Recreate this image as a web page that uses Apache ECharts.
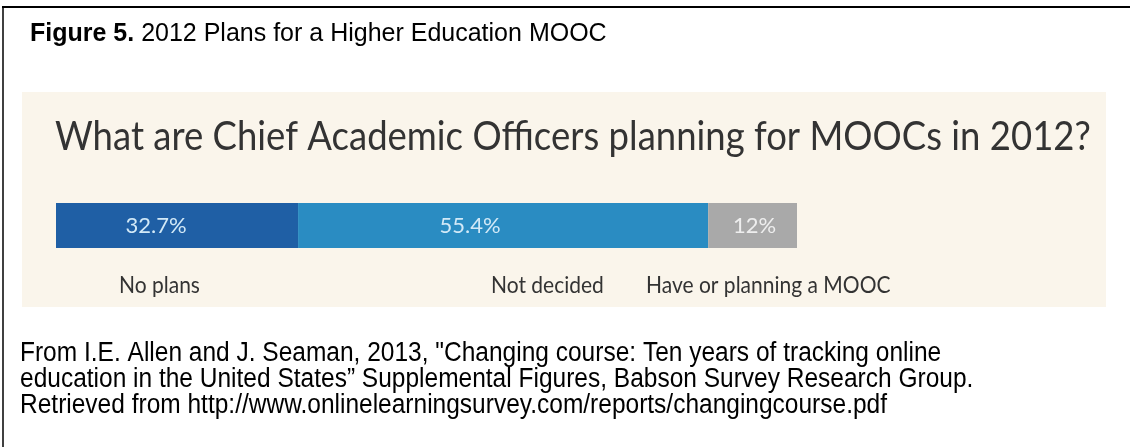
<!DOCTYPE html>
<html>
<head>
<meta charset="utf-8">
<title>2012 Plans for a Higher Education MOOC</title>
<script src="https://cdn.jsdelivr.net/npm/echarts@6/dist/echarts.min.js"></script>
<style>
  html, body { margin: 0; padding: 0; background: #ffffff; }
  #chart { width: 1130px; height: 447px; }
</style>
</head>
<body>
<div id="chart"></div>
<script>
// Survey answers, one stacked segment each
const categories = ['No plans', 'Not decided', 'Have or planning a MOOC'];
const shares = [32.7, 55.4, 12];
const shareLabels = ['32.7%', '55.4%', '12%'];
const segmentColors = ['#1f5fa5', '#2a8cc2', '#a9a9a9'];
const labelNudge = [-21, -33, 2];

const figureCaption = 'Figure 5.';
const figureTitle = ' 2012 Plans for a Higher Education MOOC';
const question = 'What are Chief Academic Officers planning for MOOCs in 2012?';
const sourceLines = [
  'From I.E. Allen and J. Seaman, 2013, "Changing course: Ten years of tracking online',
  'education in the United States\u201d Supplemental Figures, Babson Survey Research Group.',
  'Retrieved from http://www.onlinelearningsurvey.com/reports/changingcourse.pdf'
];

const total = shares.reduce((a, b) => a + b, 0);
const chart = echarts.init(document.getElementById('chart'), null, { renderer: 'canvas' });

const series = categories.map((name, i) => ({
  name: name,
  type: 'bar',
  stack: 'all',
  barWidth: 45,
  data: [{
    value: shares[i],
    itemStyle: { color: segmentColors[i] },
    label: {
      show: true,
      position: 'inside',
      offset: [labelNudge[i], 0],
      formatter: shareLabels[i],
      color: i === 2 ? '#eeeeee' : '#d2e9f7',
      fontFamily: 'Lato',
      fontSize: 22
    }
  }]
}));

// Left edges of the category names printed under the bar
const nameLeft = [119, 491, 646];

chart.setOption({
  animation: false,
  graphic: [
    // frame edges
    { type: 'line', shape: { x1: 2, y1: 7, x2: 1130, y2: 7 }, style: { stroke: '#000', lineWidth: 2 }, z: 0 },
    { type: 'line', shape: { x1: 3, y1: 7, x2: 3, y2: 447 }, style: { stroke: '#000', lineWidth: 1.5 }, z: 0 },
    // figure heading
    {
      type: 'text', x: 30, y: 34,
      style: {
        text: '{b|' + figureCaption + '}' + figureTitle,
        verticalAlign: 'middle',
        font: '25px "Liberation Sans", Arial, sans-serif',
        fill: '#000',
        rich: { b: { fontWeight: 'bold', fontSize: 25, fontFamily: '"Liberation Sans", Arial, sans-serif' } }
      }
    },
    // beige panel
    { type: 'rect', shape: { x: 22, y: 92, width: 1084, height: 215 }, style: { fill: '#faf5eb' }, z: -1 },
    {
      type: 'text', x: 55, y: 137, scaleY: 1.1,
      style: { text: question, verticalAlign: 'middle', font: '36.5px Lato, sans-serif', fill: '#333333' }
    },
    ...categories.map((name, i) => ({
      type: 'text', x: nameLeft[i], y: 285, scaleY: 1.12,
      style: { text: name, verticalAlign: 'middle', font: '21px Lato, sans-serif', fill: '#333333' }
    })),
    // source note
    ...sourceLines.map((line, i) => ({
      type: 'text', x: 20, y: 354 + i * 26, scaleY: 1.1,
      style: { text: line, verticalAlign: 'middle', font: '24.5px "Liberation Sans", Arial, sans-serif', fill: '#000' }
    }))
  ],
  grid: { left: 56, top: 203, width: 741, height: 45, containLabel: false },
  xAxis: { type: 'value', min: 0, max: total, show: false },
  yAxis: { type: 'category', data: ['2012'], show: false },
  series: series
});
</script>
</body>
</html>
